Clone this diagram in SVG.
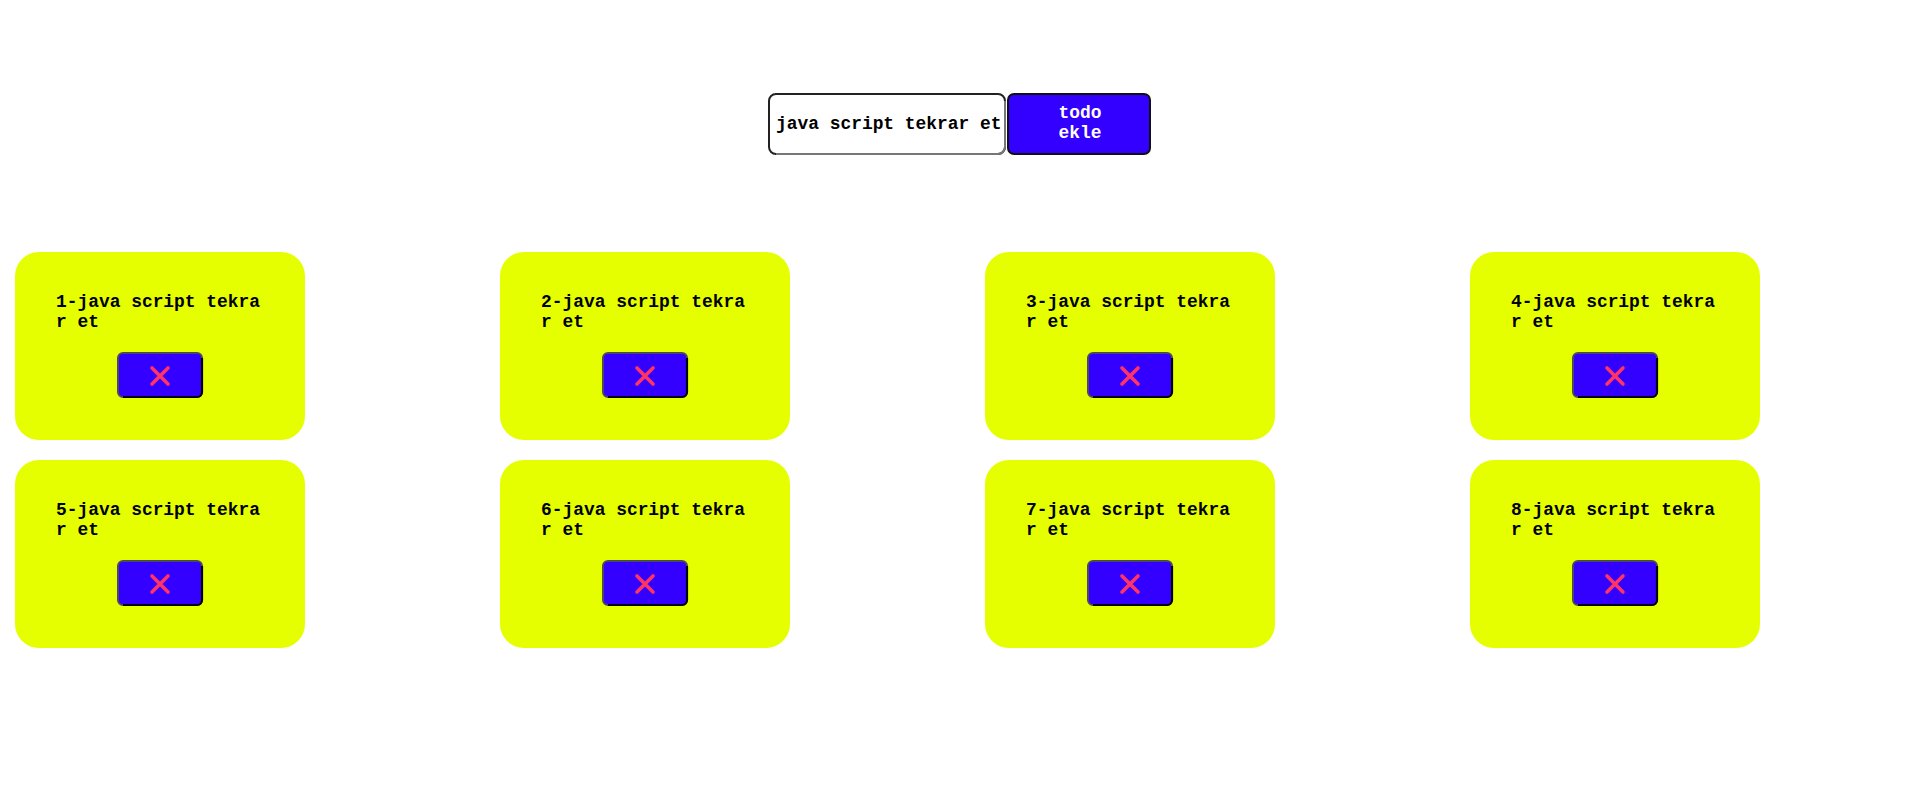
<svg xmlns="http://www.w3.org/2000/svg" width="1919" height="812" viewBox="0 0 1919 812">
<style>
.card{fill:#e5ff00}
.t{font-family:"Liberation Mono","Courier New",monospace;font-weight:bold;font-size:17.9px;fill:#000}
.del{fill:#3300ff;stroke:#4a4a5a;stroke-width:2}
.delsh{fill:none;stroke:#000;stroke-width:2.2}
.x{stroke:#ff3366;stroke-width:3.6;stroke-linecap:round}
.wt{font-family:"Liberation Mono","Courier New",monospace;font-weight:bold;font-size:17.9px;fill:#fff;text-anchor:middle}
</style>
<defs>
<g id="delbtn">
<rect class="del" x="-42" y="1" width="84" height="44" rx="5"/>
<path class="delsh" d="M42,6 L42,40 A5,5 0 0 1 37,45 L-37,45"/>
<path class="x" d="M-8,16 L8,32 M8,16 L-8,32"/>
</g>
</defs>
<rect width="1919" height="812" fill="#fff"/>
<g id="input">
<rect x="769" y="94" width="236" height="60" rx="7" fill="#fff" stroke="#222" stroke-width="2"/>
<path d="M1005,101 L1005,147 A7,7 0 0 1 998,154 L776,154" fill="none" stroke="#777" stroke-width="2"/>
<text class="t" x="776" y="129">java script tekrar et</text>
</g>
<g id="add-button">
<rect x="1008" y="94" width="142" height="60" rx="6" fill="#3300ff" stroke="#111" stroke-width="2"/>
<text class="wt" x="1080" y="118">todo</text>
<text class="wt" x="1080" y="138">ekle</text>
</g>
<g id="card1" transform="translate(15,252)">
<rect class="card" width="290" height="188" rx="24"/>
<text class="t" x="41" y="55">1-java script tekra</text><text class="t" x="41" y="75">r et</text>
<use href="#delbtn" x="145" y="100"/>
</g>
<g id="card2" transform="translate(500,252)">
<rect class="card" width="290" height="188" rx="24"/>
<text class="t" x="41" y="55">2-java script tekra</text><text class="t" x="41" y="75">r et</text>
<use href="#delbtn" x="145" y="100"/>
</g>
<g id="card3" transform="translate(985,252)">
<rect class="card" width="290" height="188" rx="24"/>
<text class="t" x="41" y="55">3-java script tekra</text><text class="t" x="41" y="75">r et</text>
<use href="#delbtn" x="145" y="100"/>
</g>
<g id="card4" transform="translate(1470,252)">
<rect class="card" width="290" height="188" rx="24"/>
<text class="t" x="41" y="55">4-java script tekra</text><text class="t" x="41" y="75">r et</text>
<use href="#delbtn" x="145" y="100"/>
</g>
<g id="card5" transform="translate(15,460)">
<rect class="card" width="290" height="188" rx="24"/>
<text class="t" x="41" y="55">5-java script tekra</text><text class="t" x="41" y="75">r et</text>
<use href="#delbtn" x="145" y="100"/>
</g>
<g id="card6" transform="translate(500,460)">
<rect class="card" width="290" height="188" rx="24"/>
<text class="t" x="41" y="55">6-java script tekra</text><text class="t" x="41" y="75">r et</text>
<use href="#delbtn" x="145" y="100"/>
</g>
<g id="card7" transform="translate(985,460)">
<rect class="card" width="290" height="188" rx="24"/>
<text class="t" x="41" y="55">7-java script tekra</text><text class="t" x="41" y="75">r et</text>
<use href="#delbtn" x="145" y="100"/>
</g>
<g id="card8" transform="translate(1470,460)">
<rect class="card" width="290" height="188" rx="24"/>
<text class="t" x="41" y="55">8-java script tekra</text><text class="t" x="41" y="75">r et</text>
<use href="#delbtn" x="145" y="100"/>
</g>
<g id="connectors"/>
</svg>
